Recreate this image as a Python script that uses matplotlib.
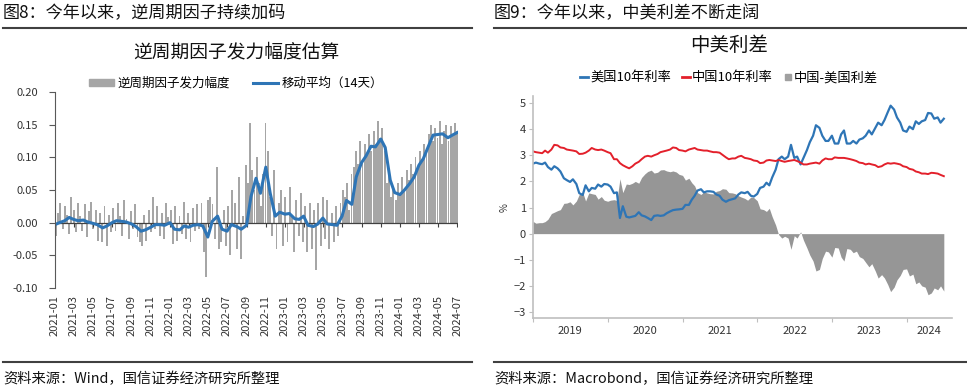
import numpy as np
import pandas as pd
import matplotlib
matplotlib.use('Agg')
import matplotlib.pyplot as plt
from matplotlib.lines import Line2D
from matplotlib.patches import Patch

plt.rcParams['font.family'] = ['Noto Sans CJK SC', 'DejaVu Sans']
plt.rcParams['axes.unicode_minus'] = True

# ---- left chart data: weekly bars from 2021-01-04, 14-day MA semi-monthly from 2021-01-01
factor_bars = [
    -0.020, 0.015, 0.030, -0.010, 0.025, 0.012, -0.018, 0.040, 0.020, -0.015, 0.030, 0.010, -0.012,
    0.028, -0.022, 0.018, 0.032, -0.010, 0.020, -0.028, 0.015, -0.030, 0.025, -0.035, 0.012, -0.015,
    0.022, -0.012, 0.030, 0.010, -0.020, 0.035, 0.005, -0.025, 0.018, -0.010, 0.028, -0.022, -0.030,
    -0.035, 0.012, -0.028, 0.020, -0.015, 0.040, -0.010, 0.025, -0.020, 0.015, -0.025, 0.030, 0.008,
    0.020, -0.032, 0.025, -0.028, 0.010, -0.018, 0.032, -0.025, 0.015, -0.030, 0.022, -0.012, 0.028,
    -0.010, 0.030, -0.045, -0.083, 0.035, 0.040, 0.028, -0.025, 0.085, -0.040, -0.030, 0.020, -0.035,
    0.025, -0.050, 0.050, 0.030, -0.040, 0.070, -0.055, 0.010, 0.089, 0.060, 0.152, 0.080, 0.050,
    0.100, 0.060, 0.025, 0.075, 0.152, 0.110, 0.040, -0.020, 0.080, -0.040, 0.030, 0.050, -0.035,
    0.040, -0.030, 0.055, 0.010, -0.045, 0.035, -0.020, 0.045, -0.030, 0.025, -0.045, 0.030, -0.040,
    0.020, -0.072, 0.030, -0.035, 0.040, -0.025, 0.035, -0.040, 0.015, -0.030, 0.025, -0.020, 0.030,
    0.050, 0.040, 0.060, 0.020, 0.075, 0.085, 0.110, 0.090, 0.125, 0.095, 0.120, 0.105, 0.135,
    0.110, 0.140, 0.120, 0.155, 0.130, 0.145, 0.110, 0.060, 0.075, 0.040, 0.055, 0.035, 0.060,
    0.045, 0.070, 0.050, 0.080, 0.065, 0.090, 0.075, 0.100, 0.085, 0.110, 0.095, 0.120, 0.105,
    0.135, 0.150, 0.125, 0.145, 0.130, 0.155, 0.120, 0.140, 0.150, 0.125, 0.148, 0.135, 0.152, 0.140,
]
factor_ma = [
    -0.003, 0.000, 0.003, 0.008, 0.005, 0.003, 0.004, 0.001, -0.001, -0.003,
    -0.008, -0.005, 0.000, 0.003, 0.002, 0.001, -0.002, -0.006, -0.013, -0.011,
    -0.007, -0.003, -0.003, -0.004, 0.000, -0.010, -0.011, -0.005, -0.007, -0.004,
    -0.003, -0.005, -0.022, 0.002, 0.010, -0.010, -0.013, -0.003, -0.006, -0.010,
    -0.004, 0.040, 0.068, 0.045, 0.085, 0.045, 0.010, 0.016, 0.013, 0.014,
    0.006, 0.005, 0.010, -0.004, -0.006, -0.002, 0.007, -0.002, -0.003, -0.004,
    0.010, 0.034, 0.028, 0.070, 0.092, 0.102, 0.117, 0.116, 0.128, 0.115,
    0.065, 0.046, 0.043, 0.050, 0.060, 0.070, 0.088, 0.098, 0.118, 0.134,
    0.135, 0.136, 0.130, 0.134, 0.138,
]
left_ticks = ['2021-01', '2021-03', '2021-05', '2021-07', '2021-09', '2021-11',
              '2022-01', '2022-03', '2022-05', '2022-07', '2022-09', '2022-11',
              '2023-01', '2023-03', '2023-05', '2023-07', '2023-09', '2023-11',
              '2024-01', '2024-03', '2024-05', '2024-07']

# ---- right chart data: semi-monthly from 2019-01-01, percent
us_10y = [
    2.68, 2.72, 2.68, 2.66, 2.72, 2.55, 2.45, 2.58, 2.50, 2.38, 2.12, 2.05,
    1.98, 2.08, 1.90, 1.55, 1.48, 1.85, 1.62, 1.75, 1.72, 1.88, 1.80, 1.90,
    1.88, 1.80, 1.55, 1.58, 0.60, 1.05, 0.65, 0.62, 0.65, 0.68, 0.82, 0.70,
    0.66, 0.60, 0.52, 0.68, 0.70, 0.68, 0.70, 0.78, 0.85, 0.90, 0.92, 0.93,
    0.95, 1.10, 1.10, 1.30, 1.45, 1.65, 1.70, 1.58, 1.62, 1.62, 1.60, 1.50,
    1.45, 1.30, 1.22, 1.28, 1.32, 1.35, 1.50, 1.58, 1.55, 1.60, 1.45, 1.42,
    1.52, 1.75, 1.80, 1.95, 1.85, 2.15, 2.45, 2.85, 2.95, 2.85, 2.95, 3.40,
    2.90, 2.95, 2.65, 2.90, 3.20, 3.50, 3.75, 4.15, 4.05, 3.75, 3.55, 3.55,
    3.75, 3.45, 3.45, 3.80, 3.95, 3.45, 3.45, 3.55, 3.45, 3.60, 3.65, 3.75,
    3.95, 3.80, 4.05, 4.25, 4.15, 4.35, 4.65, 4.90, 4.75, 4.45, 4.25, 3.95,
    3.90, 4.10, 4.00, 4.30, 4.20, 4.30, 4.35, 4.62, 4.60, 4.40, 4.45, 4.25,
    4.40,
]
cn_10y = [
    3.15, 3.12, 3.10, 3.08, 3.18, 3.10, 3.22, 3.40, 3.38, 3.30, 3.28, 3.22,
    3.20, 3.18, 3.15, 3.05, 3.06, 3.10, 3.18, 3.28, 3.22, 3.20, 3.22, 3.18,
    3.12, 3.08, 2.85, 2.85, 2.70, 2.62, 2.55, 2.50, 2.58, 2.68, 2.75, 2.85,
    2.95, 2.98, 2.95, 3.00, 3.05, 3.12, 3.15, 3.18, 3.22, 3.30, 3.28, 3.20,
    3.18, 3.15, 3.22, 3.25, 3.28, 3.22, 3.20, 3.18, 3.18, 3.15, 3.12, 3.12,
    3.10, 3.02, 2.92, 2.85, 2.88, 2.88, 2.95, 2.98, 2.90, 2.88, 2.85, 2.80,
    2.78, 2.70, 2.72, 2.80, 2.82, 2.80, 2.78, 2.82, 2.78, 2.75, 2.78, 2.80,
    2.82, 2.78, 2.72, 2.65, 2.65, 2.68, 2.70, 2.72, 2.68, 2.80, 2.88, 2.85,
    2.85, 2.92, 2.90, 2.90, 2.90, 2.88, 2.85, 2.82, 2.78, 2.72, 2.70, 2.65,
    2.68, 2.65, 2.62, 2.55, 2.58, 2.65, 2.70, 2.68, 2.70, 2.68, 2.65, 2.58,
    2.55, 2.48, 2.45, 2.38, 2.35, 2.30, 2.30, 2.28, 2.33, 2.32, 2.30, 2.25,
    2.20,
]
year_labels = ['2019', '2020', '2021', '2022', '2023', '2024']

BLUE = '#2E75B6'
RED = '#E3202B'
W, H = 967, 389


def fx(px):
    return px / W


def fy(py):
    return 1 - py / H


fig = plt.figure(figsize=(9.67, 3.89), dpi=100)

# ---------------- left panel ----------------
fig.text(fx(3), fy(13), '图8：今年以来，逆周期因子持续加码', fontsize=12.3, va='center', color='#111111')
fig.add_artist(Line2D([fx(3), fx(472)], [fy(28), fy(28)], color='#404040', lw=1.5))
fig.text(fx(236), fy(52), '逆周期因子发力幅度估算', fontsize=13.5, ha='center', va='center', color='#111111')
fig.add_artist(Line2D([fx(3), fx(472)], [fy(362), fy(362)], color='#404040', lw=1.5))
fig.text(fx(3), fy(379), '资料来源：Wind，国信证券经济研究所整理', fontsize=10.3, va='center', color='#111111')

ax1 = fig.add_axes([fx(55), fy(288), (458 - 55) / W, (288 - 92) / H])
bar_dates = pd.date_range('2021-01-04', periods=len(factor_bars), freq='7D')
ma_dates = pd.date_range('2021-01-01', periods=len(factor_ma), freq='SMS')
ax1.bar(bar_dates, factor_bars, width=6, color='#A6A6A6', linewidth=0)
ax1.axhline(0, color='#404040', lw=0.9)
tick_dates = pd.date_range('2021-01-01', periods=len(left_ticks), freq='2MS')
ax1.vlines(tick_dates, -0.006, 0, color='#404040', lw=0.8)
ax1.plot(ma_dates, factor_ma, color=BLUE, lw=2.2)

ax1.set_xlim(pd.Timestamp('2021-01-01'), pd.Timestamp('2024-07-03'))
ax1.set_ylim(-0.10, 0.20)
ax1.set_yticks(np.arange(-0.10, 0.201, 0.05))
ax1.set_yticklabels(['%.2f' % v for v in np.arange(-0.10, 0.201, 0.05)])
ax1.set_xticks(tick_dates)
ax1.set_xticklabels(left_ticks, rotation=90)
for s in ['top', 'right', 'bottom']:
    ax1.spines[s].set_visible(False)
ax1.spines['left'].set_color('#595959')
ax1.spines['left'].set_linewidth(0.8)
ax1.tick_params(axis='y', length=4, color='#595959', labelsize=8, pad=8, labelcolor='#333333')
ax1.tick_params(axis='x', length=0, labelsize=8, pad=5, labelcolor='#333333')

h1 = [Patch(color='#A6A6A6'), Line2D([], [], color=BLUE, lw=2.2)]
fig.legend(h1, ['逆周期因子发力幅度', '移动平均（14天）'], loc='center',
           bbox_to_anchor=(fx(236), fy(83)), ncol=2, frameon=False, fontsize=9,
           handlelength=2.0, handleheight=0.5, columnspacing=1.8, handletextpad=0.3)

# ---------------- right panel ----------------
fig.text(fx(494), fy(13), '图9：今年以来，中美利差不断走阔', fontsize=12.3, va='center', color='#111111')
fig.add_artist(Line2D([fx(494), fx(967)], [fy(28), fy(28)], color='#404040', lw=1.5))
fig.text(fx(729), fy(45), '中美利差', fontsize=14, ha='center', va='center', color='#111111')
fig.add_artist(Line2D([fx(494), fx(967)], [fy(362), fy(362)], color='#404040', lw=1.5))
fig.text(fx(494), fy(379), '资料来源：Macrobond，国信证券经济研究所整理', fontsize=10.3, va='center', color='#111111')

ax2 = fig.add_axes([fx(533), fy(318), (952 - 533) / W, (318 - 96) / H])
dates = pd.date_range('2019-01-01', periods=len(us_10y), freq='SMS')
us = np.array(us_10y)
cn = np.array(cn_10y)
spread = cn - us
ax2.fill_between(dates, spread, 0, color='#969696', linewidth=0)
ax2.plot(dates, us, color=BLUE, lw=1.6)
ax2.plot(dates, cn, color=RED, lw=1.4)

x_end = pd.Timestamp('2024-08-10')
ax2.set_xlim(pd.Timestamp('2019-01-01'), x_end)
ax2.set_ylim(-3.23, 5.27)
ax2.set_yticks(range(-3, 6))
year_starts = [pd.Timestamp(y + '-01-01') for y in year_labels]
ax2.set_xticks(year_starts)
ax2.set_xticklabels([''] * len(year_starts))
mids = []
for ys in year_starts:
    ye = min(ys + pd.DateOffset(years=1), x_end)
    mids.append(ys + (ye - ys) / 2)
ax2.set_xticks(mids, minor=True)
ax2.set_xticklabels(year_labels, minor=True)
for s in ['top', 'right']:
    ax2.spines[s].set_visible(False)
for s in ['left', 'bottom']:
    ax2.spines[s].set_color('#BFBFBF')
    ax2.spines[s].set_linewidth(1.2)
ax2.tick_params(axis='x', which='major', length=3, color='#BFBFBF')
ax2.tick_params(axis='x', which='minor', length=0, pad=6, labelsize=8, labelcolor='#333333')
ax2.tick_params(axis='y', length=3, color='#BFBFBF', labelsize=8, pad=2, labelcolor='#333333')
fig.text(fx(505), fy(208), '%', rotation=90, fontsize=7, ha='center', va='center', color='#333333')

h2 = [Line2D([], [], color=BLUE, lw=2),
      Line2D([], [], color=RED, lw=2),
      Line2D([], [], ls='none', marker='s', ms=4, color='#A0A0A0')]
fig.legend(h2, ['美国10年利率', '中国10年利率', '中国-美国利差'], loc='center',
           bbox_to_anchor=(fx(729), fy(78)), ncol=3, frameon=False, fontsize=9.5,
           handlelength=0.6, handletextpad=0.2, columnspacing=0.8)

fig.savefig('out.png', dpi=100)
